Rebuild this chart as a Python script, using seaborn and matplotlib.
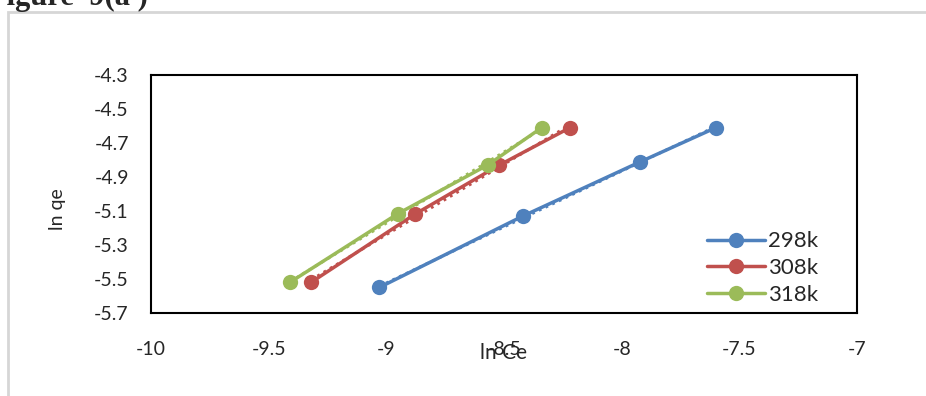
import numpy as np
import pandas as pd
import matplotlib
matplotlib.use("Agg")
import matplotlib.pyplot as plt
import seaborn as sns
from matplotlib.patches import Rectangle

# values
ln_ce_298 = [-9.03, -8.42, -7.92, -7.60]
ln_qe_298 = [-5.55, -5.13, -4.81, -4.61]
ln_ce_308 = [-9.32, -8.88, -8.52, -8.22]
ln_qe_308 = [-5.52, -5.12, -4.83, -4.61]
ln_ce_318 = [-9.41, -8.95, -8.57, -8.34]
ln_qe_318 = [-5.52, -5.115, -4.83, -4.61]
temps = ["298k", "308k", "318k"]
colors = ["#4F81BD", "#C0504D", "#9BBB59"]
x_ticks = [-10, -9.5, -9, -8.5, -8, -7.5, -7]
y_ticks = [-4.3, -4.5, -4.7, -4.9, -5.1, -5.3, -5.5, -5.7]

df = pd.concat([
    pd.DataFrame({"lnCe": ln_ce_298, "lnqe": ln_qe_298, "T": temps[0]}),
    pd.DataFrame({"lnCe": ln_ce_308, "lnqe": ln_qe_308, "T": temps[1]}),
    pd.DataFrame({"lnCe": ln_ce_318, "lnqe": ln_qe_318, "T": temps[2]}),
])

sns.set_style("white")
plt.rcParams["font.family"] = ["Lato", "DejaVu Sans"]

fig = plt.figure(figsize=(9.26, 3.96), dpi=100)
ax = fig.add_axes([151 / 926, 1 - 313 / 396, 706 / 926, 238 / 396])

# dotted linear trendlines (excel style)
for t, c in zip(temps, colors):
    sub = df[df["T"] == t]
    k, b = np.polyfit(sub["lnCe"], sub["lnqe"], 1)
    xs = np.array([sub["lnCe"].min(), sub["lnCe"].max()])
    ax.plot(xs, k * xs + b, ls=":", color=c, lw=2, zorder=1)

sns.lineplot(data=df, x="lnCe", y="lnqe", hue="T", palette=colors, sort=False,
             marker="o", markersize=11, markeredgewidth=0, linewidth=2.5, ax=ax, zorder=2)

ax.set_xlim(-10, -7)
ax.set_ylim(-5.7, -4.3)
ax.set_xticks(x_ticks)
ax.set_xticklabels([f"{v:g}" for v in x_ticks])
ax.set_yticks(y_ticks)
ax.set_yticklabels([f"{v:g}" for v in y_ticks])
ax.tick_params(axis="x", length=0, pad=20, labelsize=14)
ax.tick_params(axis="y", length=0, pad=16, labelsize=14)
for s in ax.spines.values():
    s.set_color("black")
    s.set_linewidth(1.5)

ax.set_xlabel("")
ax.set_ylabel("")
fig.text(504 / 926, 1 - 353 / 396, "ln Ce", ha="center", va="center", fontsize=15)
fig.text(57 / 926, 1 - 209 / 396, "ln qe", ha="center", va="center", rotation=90, fontsize=14)

ax.legend(loc="upper left", bbox_to_anchor=(0.775, 0.38), frameon=False, fontsize=16,
          handlelength=2.6, labelspacing=0.3, handletextpad=0.15, borderaxespad=0,
          markerscale=1.0)

# page frame and caption from the screenshot
fig.patches.append(Rectangle((8 / 926, -0.05), 1.0, 1 - 12 / 396 + 0.05, transform=fig.transFigure,
                             fill=False, edgecolor="#d6d6d6", linewidth=2))
fig.text(-12 / 926, 1 - 5 / 396, "Figure  9(a )", family="Liberation Serif", weight="bold",
         fontsize=22, ha="left", va="baseline")

fig.savefig("out.png", dpi=100)
